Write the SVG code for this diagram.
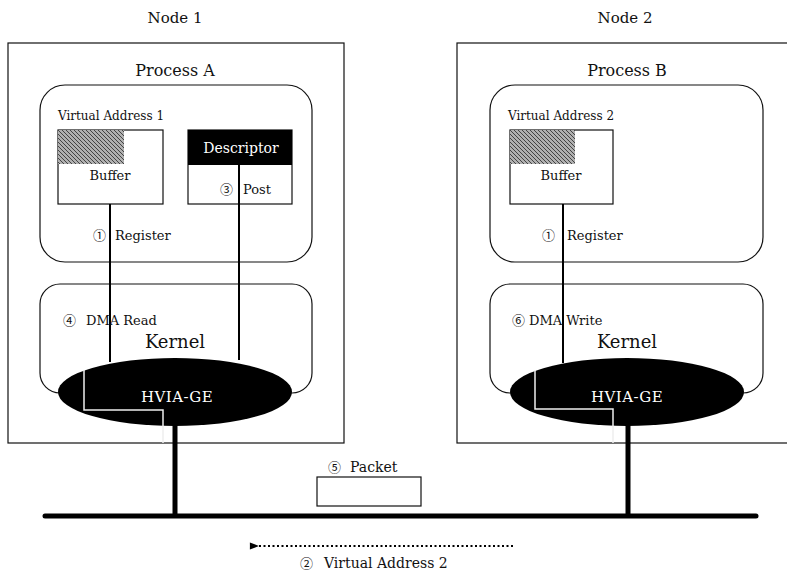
<svg xmlns="http://www.w3.org/2000/svg" width="787" height="571" viewBox="0 0 787 571">
  <defs>
    <pattern id="hatch" width="4" height="4" patternUnits="userSpaceOnUse">
      <rect width="4" height="4" fill="#b0b0b0"/>
      <path d="M-1,-1 L5,5 M-1,3 L1,5 M3,-1 L5,1" stroke="#444" stroke-width="1"/>
    </pattern>
    <marker id="arrowL" viewBox="0 0 10 10" refX="1" refY="5" markerWidth="10" markerHeight="9" orient="auto-start-reverse" markerUnits="userSpaceOnUse">
      <path d="M0,5 L10,1 L10,9 Z" fill="#000"/>
    </marker>
  </defs>
  <style>
    text { font-family: "DejaVu Serif", "Noto Sans CJK JP", serif; fill: #111; }
    .title { font-size: 15px; }
    .proc { font-size: 16px; }
    .small { font-size: 12px; }
    .lbl { font-size: 13px; }
    .big { font-size: 14px; }
    .num { font-family: "Noto Sans CJK JP", "DejaVu Sans", sans-serif; font-size: 13px; }
    .kern { font-size: 18px; }
    .inv { fill: #fff; font-size: 14px; }
    .hv { fill: #fff; font-size: 15px; letter-spacing: 0.5px; }
    .box { fill: #fff; stroke: #111; stroke-width: 1.2; }
    .round { fill: none; stroke: #111; stroke-width: 1.2; }
    .wire { stroke: #000; stroke-width: 2; fill: none; }
    .thick { stroke: #000; stroke-width: 5; fill: none; }
    .path-w { stroke: #eee; stroke-width: 1.5; fill: none; }
  </style>

  <rect width="787" height="571" fill="#fff"/>

  <!-- Node 1 -->
  <g id="node1">
    <text class="title" x="175" y="23" text-anchor="middle">Node 1</text>
    <rect x="8" y="43" width="336" height="400" class="box" stroke-width="1.5"/>
    <text class="proc" x="175" y="76" text-anchor="middle">Process A</text>
  </g>

  <g id="processA">
    <rect x="40" y="85" width="272" height="177" rx="25" class="round"/>
    <text class="small" x="58" y="120">Virtual Address 1</text>
  </g>

  <g id="bufferA">
    <rect x="58" y="130" width="105" height="74" class="box"/>
    <rect x="58" y="130" width="66" height="34" fill="url(#hatch)"/>
    <text class="lbl" x="110" y="180" text-anchor="middle">Buffer</text>
  </g>

  <g id="descriptor">
    <rect x="188" y="130" width="104" height="74" class="box"/>
    <rect x="188" y="130" width="104" height="35" fill="#000"/>
    <text class="inv" x="241" y="153" text-anchor="middle">Descriptor</text>
  </g>

  <g id="kernelA">
    <rect x="40" y="284" width="272" height="109" rx="20" class="round"/>
    <text class="kern" x="175" y="348" text-anchor="middle">Kernel</text>
  </g>

  <!-- Node 2 -->
  <g id="node2">
    <text class="title" x="625" y="23" text-anchor="middle">Node 2</text>
    <rect x="457" y="43" width="335" height="400" class="box" stroke-width="2"/>
    <text class="proc" x="627" y="76" text-anchor="middle">Process B</text>
  </g>

  <g id="processB">
    <rect x="490" y="85" width="273" height="177" rx="25" class="round"/>
    <text class="small" x="508" y="120">Virtual Address 2</text>
  </g>

  <g id="bufferB">
    <rect x="510" y="130" width="103" height="74" class="box"/>
    <rect x="510" y="130" width="65" height="34" fill="url(#hatch)"/>
    <text class="lbl" x="561" y="180" text-anchor="middle">Buffer</text>
  </g>

  <g id="kernelB">
    <rect x="490" y="284" width="273" height="109" rx="20" class="round"/>
    <text class="kern" x="627" y="348" text-anchor="middle">Kernel</text>
  </g>

  <!-- Connectors -->
  <g id="connectors">
    <!-- register / post lines into the adapters -->
    <line x1="110" y1="204" x2="110" y2="362" class="wire"/>
    <line x1="239" y1="165" x2="239" y2="360" class="wire"/>
    <line x1="563" y1="204" x2="563" y2="363" class="wire"/>
    <!-- adapter to network -->
    <line x1="175" y1="420" x2="175" y2="516" class="thick"/>
    <line x1="628" y1="420" x2="628" y2="516" class="thick"/>
    <!-- network bus -->
    <line x1="45" y1="516" x2="756" y2="516" stroke="#000" stroke-width="5" stroke-linecap="round"/>
    <!-- address hand-over arrow -->
    <line x1="513" y1="546" x2="258" y2="546" stroke="#000" stroke-width="2.2" stroke-dasharray="2 2.5" marker-end="url(#arrowL)"/>
  </g>

  <g id="hviaA">
    <ellipse cx="175" cy="392" rx="117" ry="34" fill="#000"/>
    <text class="hv" x="177" y="402" text-anchor="middle">HVIA-GE</text>
    <polyline points="84,370 84,410 163,410 163,443" class="path-w"/>
  </g>

  <g id="hviaB">
    <ellipse cx="627" cy="392" rx="117" ry="34" fill="#000"/>
    <text class="hv" x="627" y="402" text-anchor="middle">HVIA-GE</text>
    <polyline points="535,370 535,409 613,409 613,443" class="path-w"/>
  </g>

  <g id="packet">
    <rect x="317" y="477" width="104" height="29" class="box"/>
    <text class="num" x="328" y="472">⑤</text>
    <text class="big" x="350" y="472">Packet</text>
  </g>

  <!-- step labels -->
  <g id="labels">
    <text class="num" x="93" y="240">①</text>
    <text class="lbl" x="115" y="240">Register</text>
    <text class="num" x="220" y="194">③</text>
    <text class="lbl" x="243" y="194">Post</text>
    <text class="num" x="63" y="325">④</text>
    <text class="lbl" x="86" y="325">DMA Read</text>
    <text class="num" x="542" y="240">①</text>
    <text class="lbl" x="567" y="240">Register</text>
    <text class="num" x="512" y="325">⑥</text>
    <text class="lbl" x="529" y="325">DMA Write</text>
    <text class="num" x="300" y="568">②</text>
    <text class="big" x="324" y="568">Virtual Address 2</text>
  </g>
</svg>
